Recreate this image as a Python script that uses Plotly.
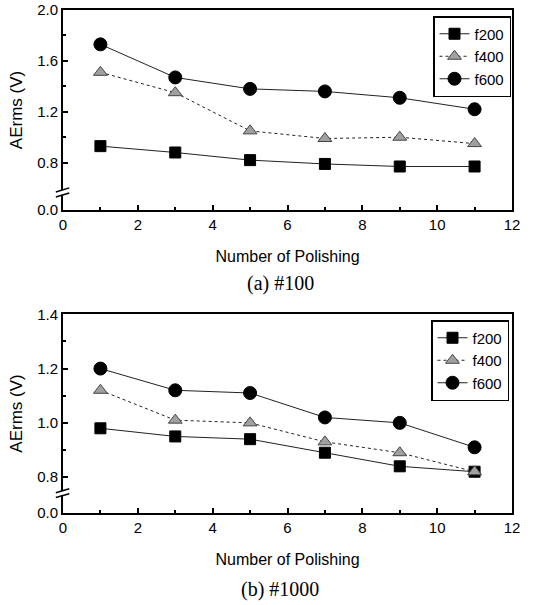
import plotly.graph_objects as go

polishing = [1, 3, 5, 7, 9, 11]
series_names = ["f200", "f400", "f600"]

# (a) #100
a_f200 = [0.93, 0.88, 0.82, 0.79, 0.77, 0.77]
a_f400 = [1.51, 1.35, 1.05, 0.99, 1.00, 0.95]
a_f600 = [1.73, 1.47, 1.38, 1.36, 1.31, 1.22]

# (b) #1000
b_f200 = [0.98, 0.95, 0.94, 0.89, 0.84, 0.82]
b_f400 = [1.12, 1.01, 1.00, 0.93, 0.89, 0.82]
b_f600 = [1.20, 1.12, 1.11, 1.02, 1.00, 0.91]

a_ticks = [0.428, 0.8, 1.2, 1.6, 2.0]
a_ticktext = ["0.0", "0.8", "1.2", "1.6", "2.0"]
b_ticks = [0.668, 0.8, 1.0, 1.2, 1.4]
b_ticktext = ["0.0", "0.8", "1.0", "1.2", "1.4"]
x_ticks = [0, 2, 4, 6, 8, 10, 12]

W, H = 543, 605
FONT = "Liberation Sans, Arial, sans-serif"
SERIF = "Liberation Serif, Times New Roman, serif"

styles = {
    "f200": dict(symbol="square", size=11, color="black", line=dict(color="black", width=1)),
    "f400": dict(symbol="triangle-up", size=12, color="#a0a0a0", line=dict(color="#444444", width=1)),
    "f600": dict(symbol="circle", size=13, color="black", line=dict(color="black", width=1)),
}
lines_a = {"f200": "solid", "f400": "dot", "f600": "solid"}
lines_b = {"f200": "solid", "f400": "dot", "f600": "solid"}

fig = go.Figure()
for name, ys in zip(series_names, [a_f200, a_f400, a_f600]):
    fig.add_trace(go.Scatter(x=polishing, y=ys, name=name, mode="lines+markers",
                             marker=styles[name],
                             line=dict(color="#222222", width=1, dash=lines_a[name]),
                             xaxis="x", yaxis="y", legend="legend"))
for name, ys in zip(series_names, [b_f200, b_f400, b_f600]):
    fig.add_trace(go.Scatter(x=polishing, y=ys, name=name, mode="lines+markers",
                             marker=styles[name],
                             line=dict(color="#222222", width=1, dash=lines_b[name]),
                             xaxis="x2", yaxis="y2", legend="legend2"))

axis_common = dict(showline=True, linecolor="black", linewidth=2, mirror=True,
                   ticks="inside", ticklen=5, tickwidth=1.5, tickcolor="black",
                   showgrid=False, zeroline=False, automargin=False,
                   tickfont=dict(family=FONT, size=15, color="black"))

title_font = dict(family=FONT, size=16, color="black")
xd = [63 / W, 512 / W]
fig.update_layout(
    width=W, height=H, margin=dict(l=0, r=0, t=0, b=0, autoexpand=False),
    paper_bgcolor="white", plot_bgcolor="white", showlegend=True,
    xaxis=dict(domain=xd, anchor="y", range=[0, 12], tickvals=x_ticks,
               minor=dict(ticks="inside", ticklen=3, dtick=1, tickcolor="black"),
               title=dict(text="Number of Polishing", font=title_font, standoff=19),
               **axis_common),
    yaxis=dict(domain=[1 - 210 / H, 1 - 10 / H], anchor="x", range=[0.428, 2.0],
               tickvals=a_ticks, ticktext=a_ticktext,
               minor=dict(ticks="inside", ticklen=3, tickvals=[1.0, 1.4, 1.8], tickcolor="black"),
               title=dict(text="AErms (V)", font=dict(family=FONT, size=17, color="black"), standoff=10),
               **axis_common),
    xaxis2=dict(domain=xd, anchor="y2", range=[0, 12], tickvals=x_ticks,
                minor=dict(ticks="inside", ticklen=3, dtick=1, tickcolor="black"),
                title=dict(text="Number of Polishing", font=title_font, standoff=19),
                **axis_common),
    yaxis2=dict(domain=[1 - 513 / H, 1 - 314 / H], anchor="x2", range=[0.668, 1.401],
                tickvals=b_ticks, ticktext=b_ticktext,
                minor=dict(ticks="inside", ticklen=3, tickvals=[0.9, 1.1, 1.3], tickcolor="black"),
                title=dict(text="AErms (V)", font=dict(family=FONT, size=17, color="black"), standoff=10),
                **axis_common),
    legend=dict(x=511 / W, xanchor="right", y=1 - 16 / H, yanchor="top",
                bordercolor="black", borderwidth=1.5, bgcolor="white",
                font=dict(family=FONT, size=15, color="black"),
                itemwidth=30, tracegroupgap=0),
    legend2=dict(x=509 / W, xanchor="right", y=1 - 320 / H, yanchor="top",
                 bordercolor="black", borderwidth=1.5, bgcolor="white",
                 font=dict(family=FONT, size=15, color="black"),
                 itemwidth=30, tracegroupgap=0),
)

# axis-break marks
def add_break(xname, yref, yval, dy):
    fig.add_shape(type="rect", xref=f"{xname} domain", yref=yref,
                  x0=-0.012, x1=0.012, y0=yval - dy * 0.45, y1=yval + dy * 0.45,
                  fillcolor="white", line=dict(width=0), layer="above")
    for off in (-dy * 0.5, dy * 0.5):
        fig.add_shape(type="line", xref=f"{xname} domain", yref=yref,
                      x0=-0.016, x1=0.014, y0=yval + off - dy * 0.4, y1=yval + off + dy * 0.4,
                      line=dict(color="black", width=1.5), layer="above")

add_break("x", "y", 0.566, 0.04)
add_break("x2", "y2", 0.741, 0.018)

fig.add_annotation(text="(a) #100", xref="paper", yref="paper", x=280 / W, y=1 - 283 / H,
                   yanchor="middle", showarrow=False, font=dict(family=SERIF, size=20, color="black"))
fig.add_annotation(text="(b) #1000", xref="paper", yref="paper", x=280 / W, y=1 - 589 / H,
                   yanchor="middle", showarrow=False, font=dict(family=SERIF, size=20, color="black"))

fig.write_html("out.html", config={"displayModeBar": False},
               post_script="document.body.style.margin='0';document.body.style.overflow='hidden';")
